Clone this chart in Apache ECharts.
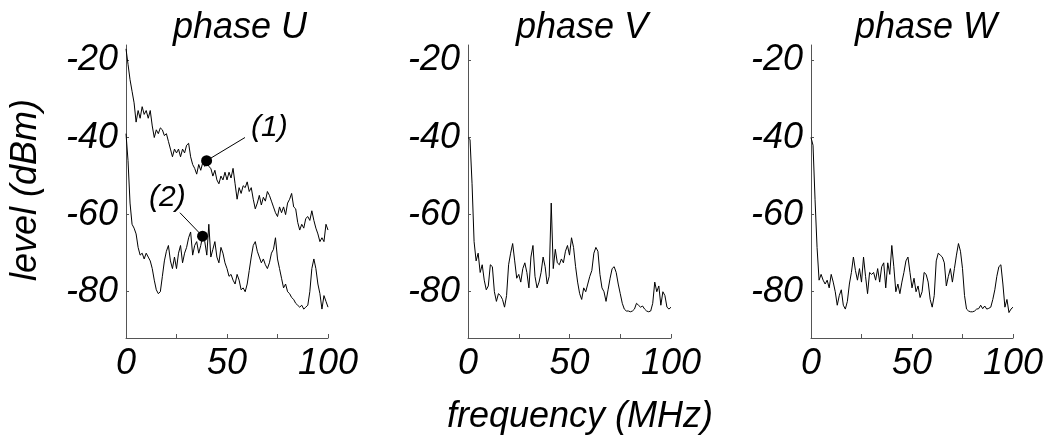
<!DOCTYPE html>
<html>
<head>
<meta charset="utf-8">
<script src="https://cdn.jsdelivr.net/npm/echarts@6/dist/echarts.min.js"></script>
<style>
  html, body { margin: 0; padding: 0; background: #fff; }
  #chart { width: 1050px; height: 437px; }
</style>
</head>
<body>
<div id="chart"></div>
<script>
// 频率 (MHz)
const freq = [0, 1, 2, 3, 4, 5, 6, 7, 8, 9, 10, 11, 12, 13, 14, 15, 16, 17, 18, 19,
    20, 21, 22, 23, 24, 25, 26, 27, 28, 29, 30, 31, 32, 33, 34, 35, 36, 37, 38, 39,
    40, 41, 42, 43, 44, 45, 46, 47, 48, 49, 50, 51, 52, 53, 54, 55, 56, 57, 58, 59,
    60, 61, 62, 63, 64, 65, 66, 67, 68, 69, 70, 71, 72, 73, 74, 75, 76, 77, 78, 79,
    80, 81, 82, 83, 84, 85, 86, 87, 88, 89, 90, 91, 92, 93, 94, 95, 96, 97, 98, 99, 100];

// phase U, 曲线 (1)
const levelU1 = [-17, -21, -25, -28, -31, -36, -33, -35, -32, -34, -33, -35, -33, -37, -40, -38, -39, -37.5, -38, -39.5,
    -39, -41, -43, -45, -43, -44, -43, -45, -43, -44, -42, -41.5, -45, -47, -48, -49.5, -47, -48.5, -46.5, -47.5,
    -46, -47.5, -48, -50, -48.5, -51, -52, -50, -51, -49, -51, -49, -50.5, -48, -52, -56, -53, -54.5, -52.5, -53,
    -51.5, -54, -53, -56, -58.5, -57, -55, -57.5, -55.5, -56.5, -54, -55, -56.5, -58, -59.5, -60.5, -58, -59.5, -58, -60,
    -57, -56, -54.5, -58, -58.5, -62, -64, -62.5, -63.5, -61, -60.5, -61.5, -59, -61.5, -63.5, -65, -67, -66, -67, -62.5, -64];

// phase U, 曲线 (2)
const levelU2 = [-39, -46, -57, -62.5, -63.5, -65, -68.5, -70.5, -70, -71.5, -70, -71, -72, -74, -77, -79.5, -80.5, -80, -76, -72,
    -69.5, -68, -72, -74, -71, -74, -70, -68, -72.5, -70, -68.5, -66, -64.5, -70.5, -68, -67, -70, -68, -65.5, -67,
    -70.5, -62.5, -71, -69, -67, -71, -72.5, -68.5, -70, -72.5, -74, -76, -75.5, -77, -78, -75.5, -77, -79.5, -79, -80,
    -78, -74.5, -71, -68, -67, -69.5, -71, -72.5, -71.5, -73, -74, -72.5, -70, -69, -66, -71.5, -74, -76.5, -79, -78,
    -80, -80.5, -81.5, -82, -83, -83.5, -84, -83.5, -84.5, -84, -83.5, -80, -74, -71.5, -74, -78, -80.5, -84.5, -81, -82.5, -84];

// phase V
const levelV = [-40, -40.5, -52, -67, -72, -70, -75, -73, -77, -79.5, -78.5, -73, -73.5, -80, -82.5, -80.5, -81, -82, -84, -81,
    -73, -70, -67.5, -72, -76.5, -75.5, -77.5, -74, -72.5, -75, -79, -71, -68, -76, -79, -77.5, -75, -71, -73.5, -78,
    -76, -57, -74, -69, -72.5, -73, -71.5, -72.5, -69.5, -68, -70.5, -66, -68.5, -73.5, -77.5, -80.5, -82, -79, -80, -78,
    -76, -74.5, -70, -68.5, -69.5, -75.5, -79, -80, -82.5, -79.5, -76.5, -74, -73.5, -75, -78, -80.5, -83, -84.5, -85, -85,
    -85.2, -85, -84.5, -83, -83.5, -84, -83.7, -84.5, -85, -85.2, -85, -83, -77.5, -80, -78.5, -83.5, -80, -81, -84, -84.5, -84];

// phase W
const levelW = [-40, -42, -56, -68.5, -77, -75.5, -77, -78, -77, -79, -75.5, -77.5, -80, -83.5, -81, -79.5, -83.5, -84.5, -82.5, -78,
    -75, -71, -74.5, -77, -74, -77.5, -71, -76, -80.5, -75, -75.5, -75, -77, -74, -77.5, -73.5, -72.5, -79, -72.5, -75.5,
    -68, -73.5, -80, -78, -80.5, -77.5, -75, -72, -71, -75, -79, -76.5, -80, -78.5, -81.5, -80, -75, -75.5, -77.5, -82,
    -84, -81, -72, -70, -70.5, -71, -72.5, -78.5, -76, -74, -77.5, -74, -70.5, -67.5, -69.5, -74, -81, -84.5, -85, -85.2,
    -85.2, -85, -84.5, -84.4, -83.5, -84.4, -83.7, -84.5, -84.3, -84, -82, -79.5, -76, -73.5, -73, -78, -84, -82, -85.4, -84.5, -84];

// 标注点 (1) (2)
const markers = [
    { name: '(1)', point: [39.9, -46], leaderEnd: [58.9, -40], labelAt: [71, -37.5] },
    { name: '(2)', point: [37.9, -65.6], leaderEnd: [26.7, -59.5], labelAt: [20.5, -55.6] }
];

const panelTitles = ['phase U', 'phase V', 'phase W'];
const xTicks = [0, 25, 50, 75, 100];
const xLabels = [0, 50, 100];
const yTicks = [-80, -60, -40, -20];

const FONT = 'Liberation Sans, Arial, Helvetica, sans-serif';
const gridLefts = [126, 468, 811];
const gridWidths = [202, 203, 202];

function pairs(ys) {
    return freq.map((f, i) => [f, ys[i]]);
}

const grids = gridLefts.map((l, i) => ({ left: l, width: gridWidths[i], top: 45, height: 293 }));

const xAxes = grids.map((g, i) => ({
    type: 'value',
    gridIndex: i,
    min: 0,
    max: 100,
    interval: 25,
    splitLine: { show: false },
    axisLine: { lineStyle: { color: '#555', width: 1 } },
    axisTick: { inside: true, length: 4, customValues: xTicks, lineStyle: { color: '#555' } },
    axisLabel: {
        customValues: xLabels,
        margin: 8,
        color: '#000',
        fontFamily: FONT,
        fontStyle: 'italic',
        fontSize: 36
    }
}));

const yAxes = grids.map((g, i) => ({
    type: 'value',
    gridIndex: i,
    min: -92,
    max: -16,
    splitLine: { show: false },
    axisLine: { show: true, lineStyle: { color: '#555', width: 1 } },
    axisTick: { show: true, inside: true, length: 3, customValues: yTicks, lineStyle: { color: '#555' } },
    axisLabel: {
        customValues: yTicks,
        margin: 8,
        color: '#000',
        fontFamily: FONT,
        fontStyle: 'italic',
        fontSize: 36
    }
}));

function traceSeries(name, ys, idx) {
    return {
        name: name,
        type: 'line',
        xAxisIndex: idx,
        yAxisIndex: idx,
        data: pairs(ys),
        showSymbol: false,
        symbol: 'none',
        lineStyle: { color: '#000', width: 1 }
    };
}

const series = [
    traceSeries('U1', levelU1, 0),
    traceSeries('U2', levelU2, 0),
    traceSeries('V', levelV, 1),
    traceSeries('W', levelW, 2)
];

markers.forEach(m => {
    // 引线
    series.push({
        type: 'line',
        xAxisIndex: 0,
        yAxisIndex: 0,
        data: [m.point, m.leaderEnd],
        symbol: 'none',
        lineStyle: { color: '#000', width: 1 },
        z: 3
    });
    // 圆点
    series.push({
        type: 'scatter',
        xAxisIndex: 0,
        yAxisIndex: 0,
        data: [m.point],
        symbolSize: 11,
        itemStyle: { color: '#000', opacity: 1 },
        z: 4
    });
    // 文字
    series.push({
        type: 'scatter',
        xAxisIndex: 0,
        yAxisIndex: 0,
        data: [m.labelAt],
        symbolSize: 0,
        itemStyle: { color: '#000', opacity: 1 },
        label: {
            show: true,
            position: 'inside',
            formatter: m.name,
            color: '#000',
            fontFamily: FONT,
            fontStyle: 'italic',
            fontSize: 30
        }
    });
});

const titleCenters = [240, 582, 926];
const graphic = panelTitles.map((t, i) => ({
    type: 'text',
    x: titleCenters[i],
    y: 28,
    style: {
        text: t,
        fill: '#000',
        font: 'italic 36px ' + FONT,
        textAlign: 'center',
        textVerticalAlign: 'middle'
    }
}));
graphic.push({
    type: 'text',
    x: 580,
    y: 417,
    style: {
        text: 'frequency (MHz)',
        fill: '#000',
        font: 'italic 36px ' + FONT,
        textAlign: 'center',
        textVerticalAlign: 'middle'
    }
});
graphic.push({
    type: 'text',
    x: 26,
    y: 190,
    rotation: Math.PI / 2,
    style: {
        text: 'level (dBm)',
        fill: '#000',
        font: 'italic 36px ' + FONT,
        textAlign: 'center',
        textVerticalAlign: 'middle'
    }
});

const chart = echarts.init(document.getElementById('chart'));
chart.setOption({
    animation: false,
    backgroundColor: '#fff',
    grid: grids,
    xAxis: xAxes,
    yAxis: yAxes,
    series: series,
    graphic: graphic
});
</script>
</body>
</html>
